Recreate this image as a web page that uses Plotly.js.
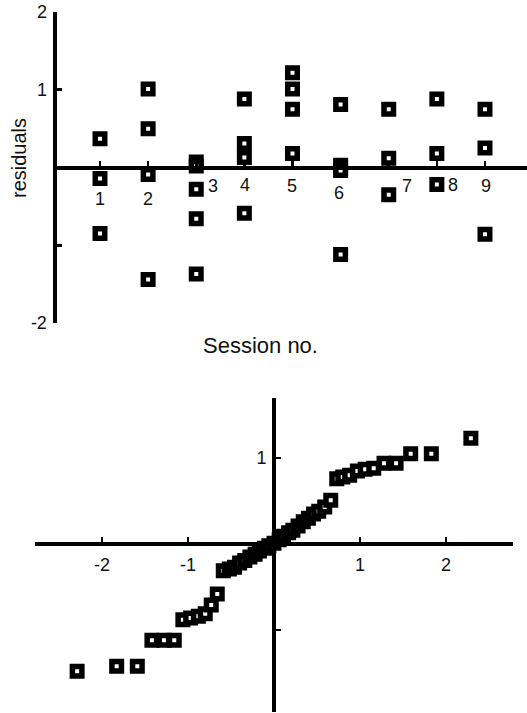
<!DOCTYPE html>
<html>
<head>
<meta charset="utf-8">
<script src="https://cdn.plot.ly/plotly-3.0.1.min.js"></script>
<style>html,body{margin:0;padding:0;background:#fff;}#chart{width:527px;height:713px;}</style>
</head>
<body>
<div id="chart"></div>
<script>
// ---- Top panel: residuals by session ----
const sessionNo = [1,1,1, 2,2,2,2, 3,3,3,3,3, 4,4,4,4, 5,5,5,5, 6,6,6,6, 7,7,7, 8,8,8, 9,9,9];
const residuals = [0.37,-0.14,-0.85, 1.01,0.50,-0.09,-1.44, 0.07,0.02,-0.28,-0.66,-1.37,
                   0.88,0.31,0.13,-0.59, 1.22,1.01,0.75,0.18, 0.81,0.03,-0.04,-1.12,
                   0.75,0.12,-0.35, 0.88,0.18,-0.22, 0.75,0.25,-0.86];
const sessionLabels = ["1","2","3","4","5","6","7","8","9"];
const sessionLabelX = [1.00, 2.00, 3.35, 4.01, 4.99, 5.97, 7.38, 8.34, 9.02];
const sessionLabelY = [-0.40, -0.41, -0.24, -0.22, -0.24, -0.33, -0.24, -0.22, -0.24];
const topYTicks = [-2, -1, 1, 2];
const topYTickText = ["-2", "", "1", "2"];

// ---- Bottom panel: normal probability plot ----
const qqTheoretical = [-2.29,-1.83,-1.59,-1.42,-1.28,-1.16,-1.06,-0.97,-0.88,-0.80,
  -0.73,-0.66,-0.59,-0.52,-0.46,-0.40,-0.34,-0.28,-0.22,-0.17,-0.11,-0.06,0.00,
  0.06,0.11,0.17,0.22,0.28,0.34,0.40,0.46,0.52,0.59,0.66,0.73,0.80,0.88,0.97,1.06,
  1.16,1.28,1.42,1.59,1.83,2.29];
const qqResidual = [-1.48,-1.42,-1.42,-1.12,-1.12,-1.12,-0.88,-0.86,-0.84,-0.81,
  -0.71,-0.58,-0.31,-0.29,-0.27,-0.22,-0.19,-0.15,-0.12,-0.08,-0.05,-0.02,0.01,
  0.05,0.09,0.13,0.16,0.21,0.26,0.30,0.35,0.38,0.43,0.51,0.76,0.78,0.80,0.85,0.87,
  0.88,0.94,0.94,1.05,1.05,1.23];
const botXTicks = [-2, -1, 1, 2];
const botXTickText = ["-2", "-1", "1", "2"];
const botYTicks = [-1, 1];
const botYTickText = ["", "1"];

const FONT = "Liberation Sans, Arial, Helvetica, sans-serif";
const TXT = "#111";
const W = 527, H = 713;

// geometry (pixels)
const topL = 57, topR = 527, topT = 12, topB = 323;
const botL = 35, botR = 513, botT = 398, botB = 712;

const topYRange = [-2, 2];
const topXRange = [0.1065, 9.873];
const botXRange = [-2.78, 2.78];
const botYRange = [-1.953, 1.698];

const topYDom = [(H - topB) / H, (H - topT) / H];
const botYDom = [(H - botB) / H, (H - botT) / H];
const botXDom = [botL / W, botR / W];

function frac(v, r) { return (v - r[0]) / (r[1] - r[0]); }
const topZeroPos = topYDom[0] + (topYDom[1] - topYDom[0]) * frac(0, topYRange);
const botZeroYPos = botYDom[0] + (botYDom[1] - botYDom[0]) * frac(0, botYRange);
const botZeroXPos = botXDom[0] + (botXDom[1] - botXDom[0]) * frac(0, botXRange);

const markerStyle = { symbol: "square", size: 9.5, color: "white", line: { color: "black", width: 5.5 } };

const traces = [
  { x: sessionNo, y: residuals, xaxis: "x", yaxis: "y", type: "scatter", mode: "markers",
    marker: markerStyle, cliponaxis: false, hoverinfo: "skip" },
  { x: qqTheoretical, y: qqResidual, xaxis: "x2", yaxis: "y2", type: "scatter", mode: "markers",
    marker: markerStyle, cliponaxis: false, hoverinfo: "skip" }
];

const annotations = sessionLabels.map((t, i) => ({
  x: sessionLabelX[i], y: sessionLabelY[i], xref: "x", yref: "y", text: t, showarrow: false,
  xanchor: "center", yanchor: "middle",
  font: { family: FONT, size: 18, color: TXT }
}));
annotations.push({
  x: 19 / W, y: (H - 158) / H, xref: "paper", yref: "paper", text: "residuals", textangle: -90,
  xanchor: "center", yanchor: "middle",
  showarrow: false, font: { family: FONT, size: 20, color: TXT }
});
annotations.push({
  x: 260 / W, y: (H - 345) / H, xref: "paper", yref: "paper", text: "Session no.",
  xanchor: "center", yanchor: "middle",
  showarrow: false, font: { family: FONT, size: 22, color: TXT }
});

const layout = {
  width: W, height: H,
  margin: { l: 0, r: 0, t: 0, b: 0, pad: 0 },
  paper_bgcolor: "white", plot_bgcolor: "rgba(0,0,0,0)",
  showlegend: false,
  xaxis: {
    domain: [topL / W, topR / W], range: topXRange, anchor: "free", position: topZeroPos,
    showgrid: false, zeroline: false, showline: true, linecolor: "black", linewidth: 4.5,
    ticks: "inside", ticklen: 5, tickwidth: 2.5, tickcolor: "black",
    tickvals: sessionLabelX.map((_, i) => i + 1), showticklabels: false, fixedrange: true
  },
  yaxis: {
    domain: topYDom, range: topYRange, anchor: "x",
    showgrid: false, zeroline: false, showline: true, linecolor: "black", linewidth: 4.5,
    ticks: "inside", ticklen: 5, tickwidth: 3, tickcolor: "black",
    tickvals: topYTicks, ticktext: topYTickText, ticklabelstandoff: 2,
    tickfont: { family: FONT, size: 18, color: TXT }, fixedrange: true
  },
  xaxis2: {
    domain: botXDom, range: botXRange, anchor: "free", position: botZeroYPos,
    showgrid: false, zeroline: false, showline: true, linecolor: "black", linewidth: 4,
    ticks: "inside", ticklen: 5, tickwidth: 2.5, tickcolor: "black",
    tickvals: botXTicks, ticktext: botXTickText, ticklabelstandoff: 3,
    tickfont: { family: FONT, size: 18, color: TXT }, fixedrange: true
  },
  yaxis2: {
    domain: botYDom, range: botYRange, anchor: "free", position: botZeroXPos,
    showgrid: false, zeroline: false, showline: true, linecolor: "black", linewidth: 4,
    ticks: "inside", ticklen: 5, tickwidth: 2.5, tickcolor: "black",
    tickvals: botYTicks, ticktext: botYTickText, ticklabelstandoff: 2,
    tickfont: { family: FONT, size: 18, color: TXT }, fixedrange: true
  },
  annotations: annotations
};

Plotly.newPlot("chart", traces, layout, { staticPlot: true, displayModeBar: false });
</script>
</body>
</html>
